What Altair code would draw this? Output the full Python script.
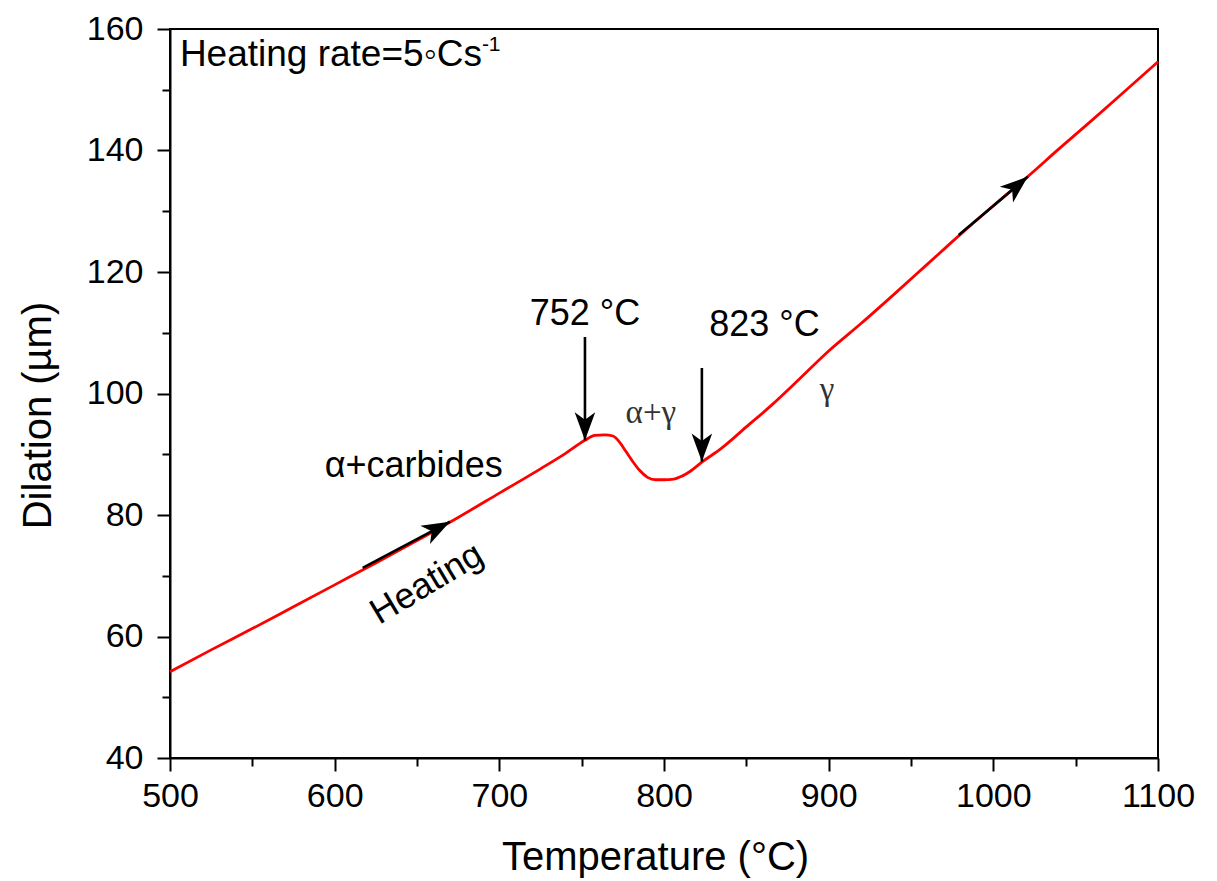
import altair as alt
import pandas as pd

# ---- curve data ----
temperature = [500, 525, 550, 575, 600, 625, 650, 675, 700, 725, 740, 752, 758, 764, 769,
               773, 777, 781, 785, 790, 795, 800, 806, 811, 816, 823, 835, 850, 865, 880,
               900, 920, 940, 960, 980, 1000, 1020, 1040, 1060, 1080, 1100]
dilation = [54.2, 57.8, 61.3, 64.9, 68.5, 72.1, 75.8, 79.6, 83.6, 87.6, 90.1, 92.3, 93.1, 93.2, 93.0,
            92.0, 90.4, 88.8, 87.4, 86.2, 85.8, 85.8, 85.9, 86.4, 87.2, 88.7, 91.0, 94.5, 98.0, 101.8,
            107.0, 111.6, 116.4, 121.3, 126.2, 130.9, 135.5, 140.3, 145.0, 149.8, 154.6]

x_ticks = list(range(500, 1101, 50))
y_ticks = list(range(40, 161, 10))

# ---- arrows (tail -> tip, in data units) ----
arrow_x = [617, 979, 752, 823]
arrow_y = [71.3, 126.1, 109.3, 104.2]
arrow_x2 = [670, 1021, 752, 823]
arrow_y2 = [78.9, 135.7, 92.3, 88.8]
arrow_angle = [62, 50, 180, 180]

# ---- text annotations ----
sans_text = ["752 °C", "823 °C", "α+carbides"]
sans_x = [752, 861, 648]
sans_y = [111.3, 109.4, 86.2]

greek_text = ["α+γ", "γ"]
greek_x = [792, 899]
greek_y = [95.1, 98.9]

FONT = "Liberation Sans"

curve_df = pd.DataFrame({"T": temperature, "D": dilation})
arrow_df = pd.DataFrame({"x": arrow_x, "y": arrow_y, "x2": arrow_x2, "y2": arrow_y2, "angle": arrow_angle})
sans_df = pd.DataFrame({"x": sans_x, "y": sans_y, "text": sans_text})
greek_df = pd.DataFrame({"x": greek_x, "y": greek_y, "text": greek_text})
rate_df = pd.DataFrame({"x": [506], "y": [153.9], "text": ["Heating rate=5◦Cs"]})
sup_df = pd.DataFrame({"x": [506], "y": [153.9], "text": ["-1"]})
heat_df = pd.DataFrame({"x": [656], "y": [68.7], "text": ["Heating"]})

x_scale = alt.Scale(domain=[500, 1100], nice=False, zero=False)
y_scale = alt.Scale(domain=[40, 160], nice=False, zero=False)

x_axis = alt.Axis(
    title="Temperature (°C)", values=x_ticks, format="d",
    labelExpr="datum.value % 100 === 0 ? datum.label : ''",
    tickSize={"condition": {"test": "datum.value % 100 === 0", "value": 13}, "value": 8},
    labelPadding=8, labelFlush=False, labelOverlap=False,
    titleX=485, titleY=111, titleBaseline="alphabetic",
)
y_axis = alt.Axis(
    title="Dilation (µm)", values=y_ticks, format="d",
    labelExpr="datum.value % 20 === 0 ? datum.label : ''",
    tickSize={"condition": {"test": "datum.value % 20 === 0", "value": 13}, "value": 8},
    labelPadding=14, labelFlush=False, labelOverlap=False,
    titleX=-120, titleY=386, titleBaseline="alphabetic", titleAngle=270,
)

line = alt.Chart(curve_df).mark_line(color="#ff0000", strokeWidth=2.8, interpolate="monotone").encode(
    x=alt.X("T:Q", scale=x_scale, axis=x_axis),
    y=alt.Y("D:Q", scale=y_scale, axis=y_axis),
)

shafts = alt.Chart(arrow_df).mark_rule(color="black", strokeWidth=2.6).encode(
    x="x:Q", y="y:Q", x2="x2:Q", y2="y2:Q"
)

heads = alt.Chart(arrow_df).mark_point(
    shape="M0,0L0.55,1.5L0,1.1L-0.55,1.5Z", filled=True, color="black", opacity=1, size=1400
).encode(
    x="x2:Q", y="y2:Q", angle=alt.Angle("angle:Q", scale=None)
)

sans = alt.Chart(sans_df).mark_text(
    font=FONT, fontSize=36, color="black", align="center", baseline="alphabetic"
).encode(x="x:Q", y="y:Q", text="text:N")

greek = alt.Chart(greek_df).mark_text(
    font="Liberation Serif", fontSize=33, color="#333333", align="center", baseline="alphabetic"
).encode(x="x:Q", y="y:Q", text="text:N")

rate = alt.Chart(rate_df).mark_text(
    font=FONT, fontSize=37, color="black", align="left", baseline="alphabetic"
).encode(x="x:Q", y="y:Q", text="text:N")

sup = alt.Chart(sup_df).mark_text(
    font=FONT, fontSize=21, color="black", align="left", baseline="alphabetic", dx=302, dy=-15
).encode(x="x:Q", y="y:Q", text="text:N")

heat = alt.Chart(heat_df).mark_text(
    font=FONT, fontSize=36, color="black", align="center", baseline="middle", angle=329
).encode(x="x:Q", y="y:Q", text="text:N")

chart = alt.layer(line, shafts, heads, sans, greek, rate, sup, heat).properties(
    width=988, height=729,
    autosize=alt.AutoSizeParams(type="none"),
    padding={"left": 162, "top": 21, "right": 50, "bottom": 122},
).configure_view(
    stroke="black", strokeWidth=2
).configure_axis(
    domainColor="black", domainWidth=2, tickColor="black", tickWidth=2,
    labelColor="black", titleColor="black", labelFont=FONT, titleFont=FONT,
    labelFontSize=34, titleFontSize=40, titleFontWeight="normal", grid=False,
)

chart.save("out.html", embed_options={"renderer": "svg", "actions": False})
